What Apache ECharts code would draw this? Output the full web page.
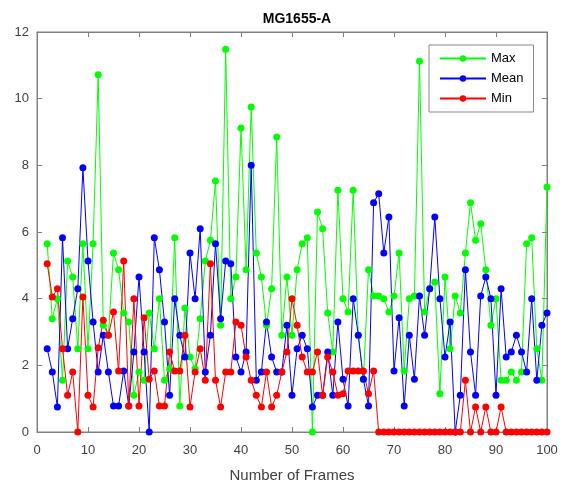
<!DOCTYPE html>
<html>
<head>
<meta charset="utf-8">
<script src="https://cdn.jsdelivr.net/npm/echarts@6/dist/echarts.min.js"></script>
<style>html,body{margin:0;padding:0;background:#fff;}#c{width:575px;height:490px;}</style>
</head>
<body>
<div id="c"></div>
<script>
var frames = [];
for (var f = 2; f <= 100; f++) frames.push(f);
var maxVals = [5.65,3.4,4.0,1.55,5.13,4.65,2.5,5.65,2.5,5.65,10.72,3.2,2.9,5.37,4.87,3.57,3.3,1.1,1.8,1.55,3.57,2.5,4.0,1.55,1.9,5.83,0.78,3.72,2.25,1.9,3.4,5.13,5.75,7.53,3.2,11.48,4.0,4.65,9.12,4.87,9.75,5.37,4.65,3.2,4.3,8.85,2.9,4.65,2.9,4.87,5.65,5.83,0,6.6,6.1,3.57,2.4,7.25,4.0,3.6,7.25,2.9,1.58,4.87,4.08,4.08,4.0,3.6,4.08,5.37,1.83,4.0,4.08,11.12,3.6,4.3,4.5,1.15,4.65,2.5,4.08,3.57,5.37,6.88,5.75,6.25,4.87,3.2,4.0,1.55,1.55,1.8,1.55,1.8,5.65,5.83,2.5,1.55,7.35];
var meanVals = [2.5,1.8,0.75,5.83,2.5,3.4,4.3,7.93,5.13,3.3,1.8,2.9,1.8,0.78,0.78,1.83,0.78,2.4,4.65,2.4,0,5.83,4.87,3.3,1.1,4.0,2.9,2.25,5.37,4.0,6.1,1.8,2.9,5.65,3.4,5.13,5.05,2.25,1.8,2.4,8.0,1.55,1.8,3.3,2.25,1.8,1.8,3.2,1.1,2.5,2.9,2.5,0.75,1.1,1.1,2.4,1.1,3.3,1.58,0.78,4.0,2.9,1.58,0.78,6.88,7.15,5.37,6.45,1.83,3.43,0.78,2.9,1.58,4.08,2.9,4.3,6.45,4.0,2.25,3.3,0,1.1,4.87,2.4,1.1,4.08,4.65,4.0,1.1,4.3,2.25,2.4,2.9,2.4,1.8,4.0,1.55,3.2,3.57];
var minVals = [5.05,4.05,4.3,2.5,1.1,1.8,0,4.05,1.1,0.75,2.53,3.35,2.9,3.6,1.83,5.13,0.78,4.0,0.78,3.43,1.58,1.83,0.78,0.78,2.4,1.83,1.83,2.9,0.75,1.8,2.5,1.55,5.05,1.55,0.75,1.8,1.8,3.3,3.2,2.25,1.55,1.1,0.75,1.8,0.75,1.1,1.8,2.4,4.0,3.2,2.25,1.8,1.8,2.4,1.1,2.25,1.8,1.1,1.15,1.83,1.83,1.83,1.83,1.15,1.83,0,0,0,0,0,0,0,0,0,0,0,0,0,0,0,0,0,1.55,0,0.75,0,0.75,0,0,0.75,0,0,0,0,0,0,0,0,0];
var xTicks = [0,10,20,30,40,50,60,70,80,90,100];
var yTicks = [0,2,4,6,8,10,12];

function pairs(vals){ return frames.map(function(x,i){ return [x, vals[i]]; }); }

var FONT = '"Liberation Sans", Arial, Helvetica, sans-serif';
var axisCol = '#808080';
var labelCol = '#404040';

function mkSeries(name, vals, color){
  return {
    name: name, type: 'line', data: pairs(vals),
    xAxisIndex: 0, yAxisIndex: 0,
    symbol: 'circle', symbolSize: 7,
    lineStyle: {color: color, width: 1},
    itemStyle: {color: color},
    emphasis: {disabled: true},
    animation: false
  };
}

var chart = echarts.init(document.getElementById('c'), null, {renderer: 'canvas'});
chart.setOption({
  animation: false,
  title: {
    text: 'MG1655-A', left: 292, top: 7, textAlign: 'center',
    textStyle: {fontFamily: FONT, fontSize: 14, fontWeight: 'bold', color: '#000'}
  },
  legend: {
    orient: 'vertical', left: 429, top: 45,
    data: ['Max', 'Mean', 'Min'],
    itemWidth: 46, itemHeight: 8, itemGap: 7,
    padding: [7, 10, 7, 10],
    backgroundColor: '#fff', borderColor: '#888', borderWidth: 1,
    textStyle: {fontFamily: FONT, fontSize: 13, color: '#000'},
    selectedMode: false
  },
  grid: {left: 37, right: 28, top: 32, bottom: 58, containLabel: false,
    show: true, borderColor: axisCol, borderWidth: 1, backgroundColor: 'transparent'},
  xAxis: [{
    type: 'value', min: 0, max: 100, interval: 10,
    name: 'Number of Frames', nameLocation: 'middle', nameGap: 36,
    nameTextStyle: {fontFamily: FONT, fontSize: 15, color: labelCol},
    axisLine: {show: true, onZero: false, lineStyle: {color: axisCol, width: 1}},
    axisTick: {show: true, inside: true, length: 5, lineStyle: {color: axisCol}},
    axisLabel: {fontFamily: FONT, fontSize: 13, color: labelCol, margin: 12,
      formatter: function(v){ return xTicks.indexOf(v) >= 0 ? String(v) : ''; }},
    splitLine: {show: false}
  }, {
    type: 'value', min: 0, max: 100, interval: 10, position: 'top',
    axisLine: {show: true, onZero: false, lineStyle: {color: axisCol, width: 1}},
    axisTick: {show: true, inside: true, length: 5, lineStyle: {color: axisCol}},
    axisLabel: {show: false}, splitLine: {show: false}
  }],
  yAxis: [{
    type: 'value', min: 0, max: 12, interval: 2,
    axisLine: {show: true, onZero: false, lineStyle: {color: axisCol, width: 1}},
    axisTick: {show: true, inside: true, length: 5, lineStyle: {color: axisCol}},
    axisLabel: {fontFamily: FONT, fontSize: 13, color: labelCol, margin: 8,
      formatter: function(v){ return yTicks.indexOf(v) >= 0 ? String(v) : ''; }},
    splitLine: {show: false}
  }, {
    type: 'value', min: 0, max: 12, interval: 2, position: 'right',
    axisLine: {show: true, onZero: false, lineStyle: {color: axisCol, width: 1}},
    axisTick: {show: true, inside: true, length: 5, lineStyle: {color: axisCol}},
    axisLabel: {show: false}, splitLine: {show: false}
  }],
  series: [
    mkSeries('Max', maxVals, '#00ff00'),
    mkSeries('Mean', meanVals, '#0000ff'),
    mkSeries('Min', minVals, '#ff0000'),
    {type: 'line', xAxisIndex: 1, yAxisIndex: 1, data: [], silent: true, symbol: 'none'}
  ]
});
</script>
</body>
</html>
